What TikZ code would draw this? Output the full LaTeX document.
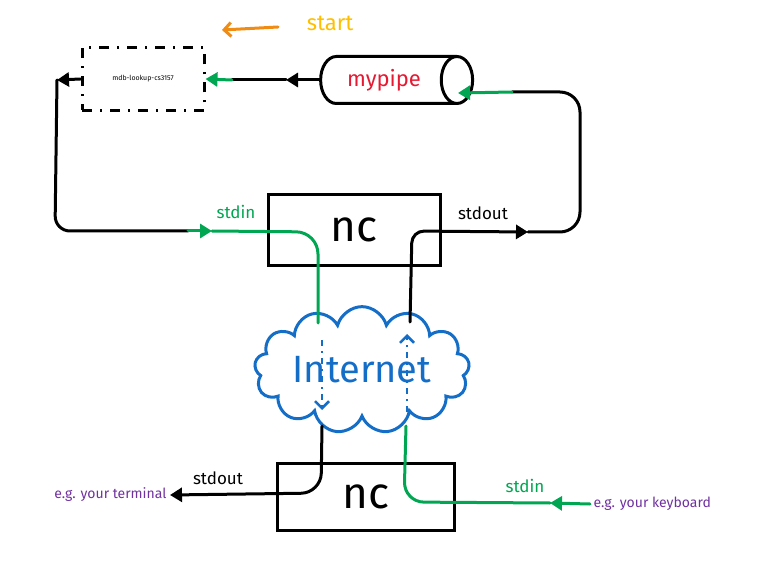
\documentclass[tikz,border=0pt]{standalone}
\usepackage{fontspec}
\setmainfont{Fira Sans}
\usetikzlibrary{shapes.geometric,shapes.symbols,arrows.meta}
\definecolor{flowgreen}{RGB}{0,166,81}
\definecolor{netblue}{RGB}{20,110,200}
\definecolor{notepurple}{RGB}{112,48,160}
\definecolor{pipered}{RGB}{230,25,50}
\definecolor{startyellow}{RGB}{255,190,0}
\definecolor{startorange}{RGB}{240,140,20}
\begin{document}
\begin{tikzpicture}[x=1pt,y=-1pt,
    wire/.style={line width=3pt,line cap=round,line join=round},
    flow/.style={wire,draw=flowgreen},
    net/.style={line width=2.5pt,draw=netblue,dash pattern=on 6pt off 5pt on 2pt off 5pt},
    tip/.style={-{Triangle[length=12pt,width=14pt]}},
    barb/.style={-{Straight Barb[length=7pt,width=14pt]}},
    lbl/.style={font=\fontsize{17}{19}\selectfont},
    ncbox/.style={draw,line width=3pt,font=\fontsize{44}{46}\selectfont},
    note/.style={text=notepurple,font=\fontsize{14}{16}\selectfont}]
  \useasboundingbox (0,0) rectangle (771,564);
  % start marker
  \node[text=startyellow,font=\fontsize{22}{24}\selectfont] (start) at (330,23) {start};
  \coordinate (stail) at (278,27);
  \coordinate (shead) at (222,30);
  \draw[line width=3pt,draw=startorange,line cap=round,barb] (stail) -- (shead);
  % nodes
  \node[draw,line width=3pt,dash pattern=on 10pt off 8pt on 2pt off 8pt,
        minimum width=122pt,minimum height=63pt,font=\fontsize{7}{8}\selectfont]
        (mdb) at (143,79) {mdb-lookup-cs3157};
  \node[cylinder,draw,line width=3pt,shape aspect=1.1,minimum width=47pt,
        minimum height=152pt,text=pipered,font=\fontsize{22}{24}\selectfont]
        (pipe) at (384,80) {mypipe};
  \node[ncbox,minimum width=172pt,minimum height=70pt] (nctop) at (354,230) {nc};
  \node[ncbox,minimum width=177pt,minimum height=67pt] (ncbot) at (366,497) {nc};
  \node[cloud,draw=netblue,line width=3pt,cloud puffs=13,aspect=2.1,
        minimum width=215pt,minimum height=108pt,inner sep=0pt,
        text=netblue,font=\fontsize{38}{40}\selectfont] (net) at (362,370) {Internet};
  \node[note,anchor=east] (term) at (170,495) {e.g. your terminal};
  \node[note,anchor=west] (kbd) at (590,504) {e.g. your keyboard};
  % labels
  \node[lbl,text=flowgreen] (lin1) at (236,212) {stdin};
  \node[lbl] (lout1) at (483,213) {stdout};
  \node[lbl] (lout2) at (218,478) {stdout};
  \node[lbl,text=flowgreen] (lin2) at (525,486) {stdin};
  % pipe -> mdb-lookup
  \coordinate (parr) at (286,80);
  \coordinate (psplit) at (232,80);
  \draw[wire,tip] (pipe.west) -- (parr);
  \draw[wire] (parr) -- (psplit);
  \draw[flow,tip] (psplit) -- (mdb.east);
  % mdb-lookup -> nc stdin
  \coordinate (lcorner) at (57,80);
  \coordinate (lsplit) at (188,231);
  \coordinate (larr) at (212,231);
  \coordinate (netin) at (318,323);
  \draw[wire,tip] (mdb.west) -- (lcorner);
  \draw[wire,rounded corners=15pt] (lcorner) -- (55,231) -- (lsplit);
  \draw[flow,tip] (lsplit) -- (larr);
  \draw[flow,rounded corners=22pt] (larr) -- (318,232) -- (netin);
  % nc stdout -> pipe
  \coordinate (netout) at (410,322);
  \coordinate (rarr) at (528,232);
  \coordinate (rsplit) at (512,92);
  \coordinate (pipein) at (458,93);
  \draw[wire,tip,rounded corners=12pt] (netout) -- (412,231) -- (rarr);
  \draw[wire,rounded corners=20pt] (rarr) -- (580,232) -- (580,92) -- (rsplit);
  \draw[flow,tip] (rsplit) -- (pipein);
  % through the internet
  \coordinate (dnA) at (322,340);
  \coordinate (dnB) at (322,410);
  \coordinate (upA) at (407,412);
  \coordinate (upB) at (407,334);
  \draw[net,barb] (dnA) -- (dnB);
  \draw[net,barb] (upA) -- (upB);
  % bottom nc
  \coordinate (netdn) at (322,426);
  \coordinate (netup) at (406,426);
  \coordinate (karr) at (550,503);
  \draw[wire,tip,rounded corners=20pt] (netdn) -- (321,493) -- (term.east);
  \draw[flow,tip] (kbd.west) -- (karr);
  \draw[flow,rounded corners=20pt] (karr) -- (404,502) -- (netup);
\end{tikzpicture}
\end{document}
